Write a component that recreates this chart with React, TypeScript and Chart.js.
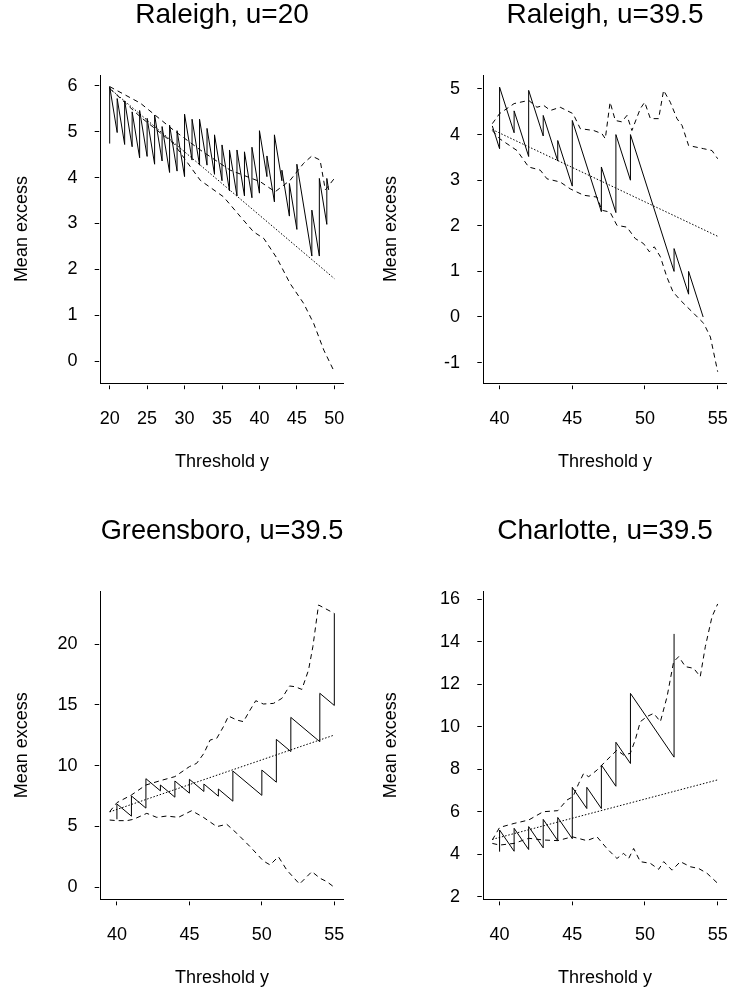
import React, { useEffect, useRef } from 'react';
import { Chart, registerables } from 'chart.js';
Chart.register(...registerables);

const FONT = "'Liberation Sans', Arial, Helvetica, sans-serif";

// ---------- Panel 1: Raleigh, u=20 ----------
const r20MeanX = [20, 20, 21, 21, 22, 22, 23, 23, 24, 24, 25, 25, 26, 26, 27, 27, 28, 28, 29, 29, 30, 30, 31, 31, 32, 32, 33, 33, 34, 34, 35, 35, 36, 36, 37, 37, 38, 38, 39, 39, 40, 40, 41, 41, 42, 42, 43, 43, 44, 44, 45, 45, 47, 47, 48, 48, 49, 49, 49.25];
const r20MeanY = [4.74, 5.98, 4.98, 5.72, 4.72, 5.67, 4.67, 5.43, 4.43, 5.46, 4.46, 5.29, 4.29, 5.36, 4.36, 5.11, 4.11, 5.14, 4.14, 5.02, 4.02, 5.38, 4.38, 5.27, 4.27, 5.27, 4.27, 5.07, 4.07, 4.93, 3.93, 4.71, 3.71, 4.6, 3.6, 4.6, 3.6, 4.56, 3.56, 4.66, 3.66, 5.02, 4.02, 4.47, 3.47, 4.93, 3.93, 4.16, 3.16, 3.87, 2.87, 4.29, 2.29, 3.29, 2.29, 3.98, 2.98, 3.98, 3.73];
const r20UpperX = [20, 24.1, 28.55, 32.1, 36.1, 40.1, 42.1, 44.1, 45.9, 47.0, 48.1, 48.8, 50.0];
const r20UpperY = [5.98, 5.62, 5.03, 4.6, 4.16, 3.91, 3.69, 3.94, 4.31, 4.47, 4.38, 3.73, 3.98];
const r20LowerX = [20, 24.1, 28.55, 30.8, 32.1, 35.2, 37.45, 39.2, 40.6, 42.35, 44.1, 45.9, 47.25, 48.6, 50.0];
const r20LowerY = [5.94, 5.32, 4.74, 4.23, 3.94, 3.58, 3.15, 2.82, 2.67, 2.24, 1.69, 1.26, 0.82, 0.24, -0.23];
const r20FitX = [20, 50];
const r20FitY = [5.94, 1.8];
const r20XTicks = [20, 25, 30, 35, 40, 45, 50];
const r20YTicks = [0, 1, 2, 3, 4, 5, 6];

// ---------- Panel 2: Raleigh, u=39.5 ----------
const r39MeanX = [39.5, 40, 40, 41, 41, 42, 42, 43, 43, 44, 44, 45, 45, 47, 47, 48, 48, 49, 49, 52, 52, 53, 53, 54];
const r39MeanY = [4.19, 3.69, 5.04, 4.04, 4.52, 3.52, 4.97, 3.97, 4.42, 3.42, 3.87, 2.87, 4.31, 2.31, 3.29, 2.29, 4.0, 3.0, 4.0, 1.0, 1.5, 0.5, 1.0, 0.0];
const r39UpperX = [39.5, 40, 41, 42, 42.57, 43.03, 43.5, 44.17, 45.05, 45.55, 46.47, 47.04, 47.27, 47.6, 47.96, 48.4, 48.76, 49.1, 49.68, 49.98, 50.37, 50.94, 51.28, 51.74, 52.2, 52.55, 53, 54.04, 54.61, 55];
const r39UpperY = [4.24, 4.46, 4.68, 4.75, 4.6, 4.64, 4.53, 4.6, 4.46, 4.13, 4.09, 4.02, 3.91, 4.71, 4.31, 4.28, 4.42, 4.09, 4.57, 4.71, 4.35, 4.35, 4.97, 4.71, 4.35, 4.2, 3.76, 3.69, 3.65, 3.47];
const r39LowerX = [39.5, 40, 41.2, 42, 42.8, 43.26, 44.17, 44.86, 45.78, 46.7, 47.04, 47.6, 48.07, 48.76, 49.33, 49.9, 50.3, 50.64, 51.06, 51.5, 51.93, 52.43, 52.9, 53.35, 54.04, 54.5, 55];
const r39LowerY = [4.09, 3.91, 3.65, 3.29, 3.22, 3.03, 2.96, 2.81, 2.67, 2.63, 2.34, 2.3, 2.01, 1.97, 1.72, 1.61, 1.43, 1.54, 1.32, 0.88, 0.55, 0.37, 0.22, 0.08, -0.14, -0.44, -1.2];
const r39FitX = [39.5, 55];
const r39FitY = [4.11, 1.77];
const r39XTicks = [40, 45, 50, 55];
const r39YTicks = [-1, 0, 1, 2, 3, 4, 5];

// ---------- Panel 3: Greensboro, u=39.5 ----------
const gMeanX = [40, 40, 41, 41, 42, 42, 43, 43, 44, 44, 45, 45, 46, 46, 47, 47, 48, 48, 50, 50, 51, 51, 52, 52, 54, 54, 55, 55];
const gMeanY = [5.59, 6.85, 5.85, 7.51, 6.51, 8.93, 7.93, 8.41, 7.41, 8.74, 7.74, 8.88, 7.88, 8.49, 7.49, 8.08, 7.08, 9.56, 7.56, 9.64, 8.64, 12.16, 11.16, 13.97, 11.97, 15.95, 14.95, 22.52];
const gUpperX = [39.5, 40, 41, 42, 43, 44, 45, 45.5, 46, 46.43, 46.89, 47.35, 47.7, 48.27, 48.73, 49.19, 49.58, 50.11, 50.8, 51.38, 51.91, 52.3, 52.76, 53.22, 53.52, 53.91, 55];
const gUpperY = [6.22, 6.96, 7.59, 8.41, 8.77, 9.1, 9.92, 10.19, 11.01, 12.11, 12.25, 13.21, 14.08, 13.75, 13.62, 14.58, 15.34, 15.07, 15.12, 15.53, 16.55, 16.49, 16.27, 17.86, 19.78, 23.21, 22.52];
const gLowerX = [39.5, 40, 40.69, 41.14, 42.06, 42.75, 43.44, 44.24, 45.16, 45.97, 46.89, 47.58, 48.27, 49.19, 50.11, 50.57, 51.14, 51.72, 52.6, 53.45, 54.02, 54.48, 55];
const gLowerY = [5.53, 5.48, 5.48, 5.59, 6.08, 5.75, 5.86, 5.75, 6.3, 5.75, 4.99, 5.18, 4.44, 3.34, 2.16, 1.84, 2.52, 1.42, 0.27, 1.29, 0.74, 0.47, 0.0];
const gFitX = [39.5, 55];
const gFitY = [6.2, 12.52];
const gXTicks = [40, 45, 50, 55];
const gYTicks = [0, 5, 10, 15, 20];

// ---------- Panel 4: Charlotte, u=39.5 ----------
const cMeanX = [40, 40, 41, 41, 42, 42, 43, 43, 44, 44, 45, 45, 46, 46, 47, 47, 48, 48, 49, 49, 52, 52];
const cMeanY = [4.12, 5.14, 4.14, 5.22, 4.22, 5.3, 4.3, 5.64, 4.64, 5.73, 4.73, 7.15, 6.15, 7.15, 6.15, 8.2, 7.2, 9.27, 8.27, 11.57, 8.57, 14.37];
const cUpperX = [39.5, 40, 41, 42, 43, 44, 44.63, 45.05, 45.44, 45.78, 46.13, 46.7, 47.04, 47.61, 48.07, 48.53, 48.99, 49.33, 49.68, 50.14, 50.6, 51.06, 51.52, 51.97, 52.32, 52.78, 53.35, 53.8, 54.15, 54.61, 55];
const cUpperY = [4.67, 5.26, 5.45, 5.61, 6.0, 6.05, 6.55, 6.71, 7.33, 7.8, 7.65, 7.96, 8.2, 8.59, 8.9, 8.67, 8.75, 9.38, 10.24, 10.48, 10.63, 10.24, 11.42, 13.06, 13.3, 12.83, 12.75, 12.36, 13.77, 15.18, 15.78];
const cLowerX = [39.5, 40, 41, 42, 43, 44, 45, 46, 46.7, 47.38, 48.07, 48.53, 48.88, 49.22, 49.68, 50.37, 50.94, 51.29, 51.86, 52.43, 53.12, 53.69, 54.27, 55];
const cLowerY = [4.51, 4.43, 4.51, 4.75, 4.67, 4.64, 4.82, 4.64, 4.82, 4.27, 3.8, 4.04, 3.8, 4.27, 3.65, 3.57, 3.29, 3.65, 3.25, 3.65, 3.41, 3.33, 3.1, 2.63];
const cFitX = [39.5, 55];
const cFitY = [4.7, 7.5];
const cXTicks = [40, 45, 50, 55];
const cYTicks = [2, 4, 6, 8, 10, 12, 14, 16];

const pts = (xs: number[], ys: number[]) => xs.map((x, i) => ({ x, y: ys[i] }));

type PanelCfg = {
  title: string;
  meanX: number[]; meanY: number[];
  upX: number[]; upY: number[];
  loX: number[]; loY: number[];
  fitX: number[]; fitY: number[];
  xTicks: number[]; yTicks: number[];
  xMin: number; xMax: number; yMin: number; yMax: number;
  left: number; top: number; w: number; h: number;
  chartLeft: number; chartRight: number; chartBottom: number;
  yTitlePad: number;
};

const panels: PanelCfg[] = [
  {
    title: 'Raleigh, u=20', meanX: r20MeanX, meanY: r20MeanY, upX: r20UpperX, upY: r20UpperY,
    loX: r20LowerX, loY: r20LowerY, fitX: r20FitX, fitY: r20FitY, xTicks: r20XTicks, yTicks: r20YTicks,
    xMin: 18.8, xMax: 51.2, yMin: -0.479, yMax: 6.233,
    left: 0, top: 0, w: 365, h: 516, chartLeft: 100.7, chartRight: 343.3, chartBottom: 383.2, yTitlePad: 11.3,
  },
  {
    title: 'Raleigh, u=39.5', meanX: r39MeanX, meanY: r39MeanY, upX: r39UpperX, upY: r39UpperY,
    loX: r39LowerX, loY: r39LowerY, fitX: r39FitX, fitY: r39FitY, xTicks: r39XTicks, yTicks: r39YTicks,
    xMin: 38.88, xMax: 55.62, yMin: -1.452, yMax: 5.307,
    left: 365, top: 0, w: 365, h: 516, chartLeft: 118.3, chartRight: 361.7, chartBottom: 383.2, yTitlePad: 15.2,
  },
  {
    title: 'Greensboro, u=39.5', meanX: gMeanX, meanY: gMeanY, upX: gUpperX, upY: gUpperY,
    loX: gLowerX, loY: gLowerY, fitX: gFitX, fitY: gFitY, xTicks: gXTicks, yTicks: gYTicks,
    xMin: 38.88, xMax: 55.62, yMin: -0.986, yMax: 24.36,
    left: 0, top: 516, w: 365, h: 481, chartLeft: 100.7, chartRight: 343.3, chartBottom: 383.3, yTitlePad: 11.3,
  },
  {
    title: 'Charlotte, u=39.5', meanX: cMeanX, meanY: cMeanY, upX: cUpperX, upY: cUpperY,
    loX: cLowerX, loY: cLowerY, fitX: cFitX, fitY: cFitY, xTicks: cXTicks, yTicks: cYTicks,
    xMin: 38.88, xMax: 55.62, yMin: 1.878, yMax: 16.39,
    left: 365, top: 516, w: 365, h: 481, chartLeft: 118.3, chartRight: 361.7, chartBottom: 383.3, yTitlePad: 15.2,
  },
];

const CHART_TOP = 75;
const TICK_LEN = 6;

function Panel({ cfg }: { cfg: PanelCfg }) {
  const ref = useRef<HTMLCanvasElement | null>(null);
  useEffect(() => {
    if (!ref.current) return;
    const xAxisH = 90;
    const padBottom = cfg.h - cfg.chartBottom - xAxisH;
    const lineDs = (xs: number[], ys: number[], dash: number[]) => ({
      data: pts(xs, ys),
      showLine: true,
      borderColor: '#000',
      backgroundColor: '#000',
      borderWidth: 1,
      borderDash: dash,
      pointRadius: 0,
      pointHoverRadius: 0,
      tension: 0,
      fill: false,
    });
    const chart = new Chart(ref.current, {
      type: 'scatter',
      data: {
        datasets: [
          lineDs(cfg.meanX, cfg.meanY, []),
          lineDs(cfg.upX, cfg.upY, [5, 4]),
          lineDs(cfg.loX, cfg.loY, [5, 4]),
          lineDs(cfg.fitX, cfg.fitY, [1.5, 1.8]),
        ],
      },
      options: {
        responsive: false,
        animation: false,
        events: [],
        layout: { padding: { left: 0, top: 0, right: cfg.w - cfg.chartRight, bottom: padBottom } },
        plugins: {
          legend: { display: false },
          tooltip: { enabled: false },
          title: {
            display: true,
            text: cfg.title,
            fullSize: false,
            color: '#000',
            font: { family: FONT, size: 28, weight: 'normal', lineHeight: 1 },
            padding: { top: 1, bottom: CHART_TOP - 29 },
          },
        },
        scales: {
          x: {
            type: 'linear',
            position: 'bottom',
            min: cfg.xMin,
            max: cfg.xMax,
            afterBuildTicks: (s: any) => { s.ticks = cfg.xTicks.map((v) => ({ value: v })); },
            afterFit: (s: any) => { s.height = xAxisH; s.paddingLeft = 0; s.paddingRight = 0; },
            ticks: {
              autoSkip: false, maxRotation: 0, minRotation: 0, padding: 18.7, color: '#000',
              font: { family: FONT, size: 18 },
              callback: (v: any) => String(v),
            },
            grid: {
              display: true, drawOnChartArea: false, drawTicks: true, tickLength: TICK_LEN,
              tickColor: '#000', tickWidth: 1, tickBorderDash: [4.5, 1.5], tickBorderDashOffset: 4.5,
            },
            border: { display: true, color: '#000', width: 1 },
            title: {
              display: true, text: 'Threshold y', color: '#000',
              font: { family: FONT, size: 18 }, padding: { top: 0, bottom: 0 },
            },
          },
          y: {
            type: 'linear',
            position: 'left',
            min: cfg.yMin,
            max: cfg.yMax,
            afterBuildTicks: (s: any) => { s.ticks = cfg.yTicks.map((v) => ({ value: v })); },
            afterFit: (s: any) => { s.width = cfg.chartLeft; s.paddingTop = 0; s.paddingBottom = 0; },
            ticks: {
              autoSkip: false, padding: 17.2, color: '#000',
              font: { family: FONT, size: 18 },
              callback: (v: any) => String(v),
            },
            grid: {
              display: true, drawOnChartArea: false, drawTicks: true, tickLength: TICK_LEN,
              tickColor: '#000', tickWidth: 1, tickBorderDash: [4.5, 1.5], tickBorderDashOffset: 0,
            },
            border: { display: true, color: '#000', width: 1 },
            title: {
              display: true, text: 'Mean excess', color: '#000',
              font: { family: FONT, size: 18 }, padding: { top: cfg.yTitlePad, bottom: 0 },
            },
          },
        },
      } as any,
    });
    return () => chart.destroy();
  }, [cfg]);
  return (
    <div style={{ position: 'absolute', left: cfg.left, top: cfg.top, width: cfg.w, height: cfg.h }}>
      <canvas ref={ref} width={cfg.w} height={cfg.h} style={{ display: 'block', width: cfg.w, height: cfg.h }} />
    </div>
  );
}

export default function App() {
  return (
    <div style={{ position: 'absolute', left: 0, top: 0, width: 730, height: 997, background: '#fff', overflow: 'hidden' }}>
      {panels.map((p, i) => <Panel key={i} cfg={p} />)}
    </div>
  );
}
